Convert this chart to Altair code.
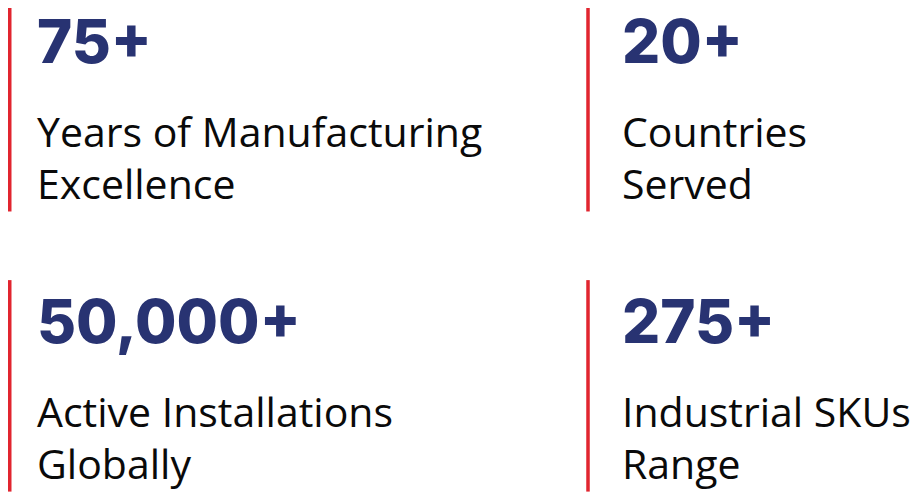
import altair as alt
import pandas as pd

# ---- data ----
numbers = ["75+", "20+", "50,000+", "275+"]
line1 = ["Years of Manufacturing", "Countries", "Active Installations", "Industrial SKUs"]
line2 = ["Excellence", "Served", "Globally", "Range"]
cols = [0, 1, 0, 1]
rows = [0, 0, 1, 1]

df = pd.DataFrame({"number": numbers, "line1": line1, "line2": line2,
                   "col": cols, "row": rows})

NAVY = "#283372"
RED = "#e1252f"
INK = "#0a0a0a"

ys = alt.Scale(domain=[0, 1.76], range=[-8, 485], zero=False, nice=False)
xt = alt.Scale(domain=[0, 1], range=[29, 614], zero=False, nice=False)
xb = alt.Scale(domain=[0, 1], range=[1.75, 580], zero=False, nice=False)

bars = alt.Chart(df).transform_calculate(
    row_end="datum.row + 0.755"
).mark_rule(color=RED, strokeWidth=3.5).encode(
    x=alt.X("col:Q", scale=xb, axis=None),
    y=alt.Y("row:Q", scale=ys, axis=None),
    y2="row_end:Q",
)

def text_layer(field, dy, size, weight, color, font):
    return alt.Chart(df).mark_text(
        align="left", baseline="alphabetic", font=font, fontWeight=weight,
        fontSize=size, color=color, dy=dy,
    ).encode(
        x=alt.X("col:Q", scale=xt, axis=None),
        y=alt.Y("row:Q", scale=ys, axis=None),
        text=f"{field}:N",
    )

nums = text_layer("number", 63, 60, 800, NAVY, "Inter")
l1 = text_layer("line1", 147, 41, 400, INK, "Open Sans")
l2 = text_layer("line2", 199, 41, 400, INK, "Open Sans")

chart = alt.layer(bars, nums, l1, l2).resolve_scale(x="independent").properties(
    width=903, height=485, padding=0, autosize="none"
).configure_view(strokeWidth=0)

chart.save("out.html", embed_options={"renderer": "svg", "actions": False})
